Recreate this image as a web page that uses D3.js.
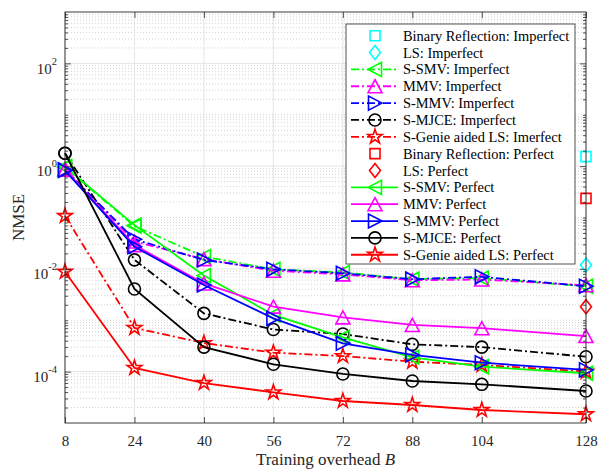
<!DOCTYPE html>
<html>
<head>
<meta charset="utf-8">
<script src="https://cdn.jsdelivr.net/npm/d3@7"></script>
<style>
  body { margin: 0; background: #fff; }
  svg { display: block; font-family: "Liberation Serif", "Times New Roman", serif; }
</style>
</head>
<body>
<svg id="chart" width="602" height="470"></svg>
<script>
// training overhead values on the x axis
const B = [8, 24, 40, 56, 72, 88, 104, 128];
const yLabelExp = [-4, -2, 0, 2];

// imperfect CSI (dash-dot lines)
const ssmvImp  = [0.95, 0.068, 0.0173, 0.0098, 0.0085, 0.0063, 0.0066, 0.0046];
const mmvImp   = [0.88, 0.034, 0.0155, 0.0092, 0.0078, 0.0060, 0.0062, 0.0048];
const smmvImp  = [0.85, 0.0376, 0.0149, 0.0098, 0.0082, 0.0063, 0.0070, 0.0046];
const mjceImp  = [1.78, 0.0150, 0.00136, 0.00066, 0.00054, 0.00034, 0.00030, 0.000195];
const genieImp = [0.107, 0.00071, 0.00036, 0.000234, 0.000201, 0.000156, 0.000135, 0.0001];

// perfect CSI (solid lines)
const ssmvPer  = [0.98, 0.071, 0.0074, 0.00127, 0.000466, 0.00019, 0.000125, 0.000093];
const mmvPer   = [0.85, 0.029, 0.0052, 0.00184, 0.00114, 0.00081, 0.0007, 0.000493];
const smmvPer  = [0.82, 0.027, 0.00485, 0.00109, 0.000356, 0.000211, 0.000149, 0.000108];
const mjcePer  = [1.78, 0.00406, 0.0003, 0.000139, 0.00009, 0.0000657, 0.0000566, 0.000042];
const geniePer = [0.0088, 0.000118, 0.00006, 0.0000395, 0.0000268, 0.0000224, 0.0000179, 0.0000148];

// single points at B = 128
const singleB = [128];
const brImp = [1.53];
const lsImp = [0.0119];
const brPer = [0.236];
const lsPer = [0.00184];

const series = [
  { name: 'Binary Reflection: Imperfect', xs: singleB, ys: brImp, color: '#00ffff', marker: 'square', line: null },
  { name: 'LS: Imperfect', xs: singleB, ys: lsImp, color: '#00ffff', marker: 'diamond', line: null },
  { name: 'S-SMV: Imperfect', xs: B, ys: ssmvImp, color: '#00ff00', marker: 'left', line: 'dashdot' },
  { name: 'MMV: Imperfect', xs: B, ys: mmvImp, color: '#ff00ff', marker: 'up', line: 'dashdot' },
  { name: 'S-MMV: Imperfect', xs: B, ys: smmvImp, color: '#0000ff', marker: 'right', line: 'dashdot' },
  { name: 'S-MJCE: Imperfect', xs: B, ys: mjceImp, color: '#000000', marker: 'circle', line: 'dashdot' },
  { name: 'S-Genie aided LS: Imerfect', xs: B, ys: genieImp, color: '#ff0000', marker: 'star', line: 'dashdot' },
  { name: 'Binary Reflection: Perfect', xs: singleB, ys: brPer, color: '#ff0000', marker: 'square', line: null },
  { name: 'LS: Perfect', xs: singleB, ys: lsPer, color: '#ff0000', marker: 'diamond', line: null },
  { name: 'S-SMV: Perfect', xs: B, ys: ssmvPer, color: '#00ff00', marker: 'left', line: 'solid' },
  { name: 'MMV: Perfect', xs: B, ys: mmvPer, color: '#ff00ff', marker: 'up', line: 'solid' },
  { name: 'S-MMV: Perfect', xs: B, ys: smmvPer, color: '#0000ff', marker: 'right', line: 'solid' },
  { name: 'S-MJCE: Perfect', xs: B, ys: mjcePer, color: '#000000', marker: 'circle', line: 'solid' },
  { name: 'S-Genie aided LS: Perfect', xs: B, ys: geniePer, color: '#ff0000', marker: 'star', line: 'solid' }
];

const svg = d3.select('#chart');
const axisColor = '#262626';
const margin = { top: 12, right: 16, bottom: 47, left: 65 };
const W = 602, H = 470;
const plotW = W - margin.left - margin.right;
const plotH = H - margin.top - margin.bottom;

const x = d3.scaleLinear().domain([8, 128]).range([0, plotW]);
const y = d3.scaleLog().domain([1e-5, 1e3]).range([plotH, 0]);

const g = svg.append('g').attr('transform', `translate(${margin.left},${margin.top})`);

// minor y values: every k*10^d except the labelled decades
const minorY = [];
for (let d = -5; d < 3; d++) {
  for (let k = 1; k <= 9; k++) {
    const v = k * Math.pow(10, d);
    if (k === 1 && yLabelExp.includes(d)) continue;
    if (v <= 1e-5) continue;
    minorY.push(v);
  }
}
const majorY = yLabelExp.map(e => Math.pow(10, e));

// grid
g.append('g').selectAll('line').data(minorY).enter().append('line')
  .attr('x1', 0).attr('x2', plotW)
  .attr('y1', d => y(d)).attr('y2', d => y(d))
  .attr('stroke', '#b5b5b5').attr('stroke-width', 0.6).attr('stroke-dasharray', '1 2');
g.append('g').selectAll('line').data(majorY).enter().append('line')
  .attr('x1', 0).attr('x2', plotW)
  .attr('y1', d => y(d)).attr('y2', d => y(d))
  .attr('stroke', '#dedede').attr('stroke-width', 0.8);
g.append('g').selectAll('line').data(B).enter().append('line')
  .attr('y1', 0).attr('y2', plotH)
  .attr('x1', d => x(d)).attr('x2', d => x(d))
  .attr('stroke', '#dedede').attr('stroke-width', 0.8);

// marker shapes
function markerPath(type) {
  switch (type) {
    case 'square': return 'M-5,-5H5V5H-5Z';
    case 'diamond': return 'M0,-7L5.5,0L0,7L-5.5,0Z';
    case 'up': return 'M0,-6.5L7,6.5L-7,6.5Z';
    case 'right': return 'M7,0L-6.5,-7L-6.5,7Z';
    case 'left': return 'M-7,0L6.5,-7L6.5,7Z';
    case 'circle': return d3.symbol(d3.symbolCircle, Math.PI * 36)();
    case 'star': return d3.symbol(d3.symbolStar, 66)();
  }
}

const dashes = { dashdot: '8 3 2 3', solid: null };

const lineGen = d3.line().x(d => x(d[0])).y(d => y(d[1]));

series.forEach(s => {
  const pts = s.xs.map((b, i) => [b, s.ys[i]]);
  if (s.line) {
    g.append('path').datum(pts)
      .attr('d', lineGen)
      .attr('fill', 'none')
      .attr('stroke', s.color)
      .attr('stroke-width', 1.8)
      .attr('stroke-dasharray', dashes[s.line]);
  }
  g.append('g').selectAll('path').data(pts).enter().append('path')
    .attr('d', markerPath(s.marker))
    .attr('transform', d => `translate(${x(d[0])},${y(d[1])})`)
    .attr('fill', 'none')
    .attr('stroke', s.color)
    .attr('stroke-width', 1.6);
});

// axes with inward ticks (MATLAB box style)
function styleAxis(sel) {
  sel.select('.domain').remove();
  sel.selectAll('line').attr('stroke', axisColor).attr('stroke-width', 0.8);
  sel.selectAll('text').attr('fill', axisColor).style('font-size', '15px')
    .style('font-family', '"Liberation Serif", "Times New Roman", serif');
}

const xAxis = g.append('g').attr('transform', `translate(0,${plotH})`)
  .call(d3.axisBottom(x).tickValues(B).tickFormat(d3.format('d')).tickSize(-6).tickPadding(12));
styleAxis(xAxis);
const xAxisTop = g.append('g')
  .call(d3.axisTop(x).tickValues(B).tickFormat('').tickSize(-6));
styleAxis(xAxisTop);

const yAxis = g.append('g')
  .call(d3.axisLeft(y).tickValues(majorY).tickSize(-6).tickPadding(8).tickFormat(''));
styleAxis(yAxis);
yAxis.selectAll('.tick text').each(function(d) {
  const t = d3.select(this).attr('dy', '0.65em');
  t.append('tspan').text('10');
  t.append('tspan').attr('dy', -9).style('font-size', '10.5px').text(Math.round(Math.log10(d)));
});
const yMinorL = g.append('g').call(d3.axisLeft(y).tickValues(minorY).tickSize(-3).tickFormat(''));
styleAxis(yMinorL);
const yAxisR = g.append('g').attr('transform', `translate(${plotW},0)`)
  .call(d3.axisRight(y).tickValues(majorY).tickSize(-6).tickFormat(''));
styleAxis(yAxisR);
const yMinorR = g.append('g').attr('transform', `translate(${plotW},0)`)
  .call(d3.axisRight(y).tickValues(minorY).tickSize(-3).tickFormat(''));
styleAxis(yMinorR);

// box
g.append('rect').attr('width', plotW).attr('height', plotH)
  .attr('fill', 'none').attr('stroke', axisColor).attr('stroke-width', 0.9);

// axis labels
const xl = svg.append('text')
  .attr('x', margin.left + plotW / 2).attr('y', 465)
  .attr('text-anchor', 'middle').attr('fill', axisColor).style('font-size', '17px');
xl.append('tspan').text('Training overhead ');
xl.append('tspan').style('font-style', 'italic').text('B');

svg.append('text')
  .attr('transform', `translate(24,${margin.top + plotH / 2}) rotate(-90)`)
  .attr('text-anchor', 'middle').attr('fill', axisColor).style('font-size', '17px')
  .text('NMSE');

// legend
const lg = svg.append('g');
const lgX = 346, lgY = 24, lgW = 229, lgH = 240;
lg.append('rect').attr('x', lgX).attr('y', lgY).attr('width', lgW).attr('height', lgH)
  .attr('fill', '#fff').attr('stroke', axisColor).attr('stroke-width', 0.8);
const rowH = 16.85;
series.forEach((s, i) => {
  const cy = 35.7 + i * rowH;
  if (s.line) {
    lg.append('line').attr('x1', 351).attr('x2', 398).attr('y1', cy).attr('y2', cy)
      .attr('stroke', s.color).attr('stroke-width', 1.8)
      .attr('stroke-dasharray', dashes[s.line]);
  }
  lg.append('path').attr('d', markerPath(s.marker))
    .attr('transform', `translate(375,${cy})`)
    .attr('fill', 'none').attr('stroke', s.color).attr('stroke-width', 1.6);
  lg.append('text').attr('x', 403).attr('y', cy).attr('dy', '0.35em')
    .attr('fill', '#000').style('font-size', '14.4px').text(s.name);
});
</script>
</body>
</html>
